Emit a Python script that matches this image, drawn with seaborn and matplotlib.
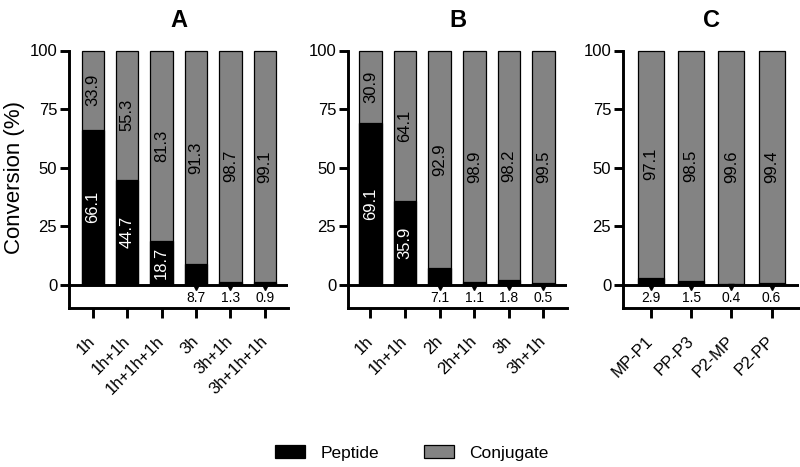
import matplotlib
matplotlib.use("Agg")
import matplotlib.pyplot as plt
from matplotlib.patches import Patch
import seaborn as sns
import pandas as pd

# ---- data ----
cats_A = ["1h", "1h+1h", "1h+1h+1h", "3h", "3h+1h", "3h+1h+1h"]
pep_A = [66.1, 44.7, 18.7, 8.7, 1.3, 0.9]
conj_A = [33.9, 55.3, 81.3, 91.3, 98.7, 99.1]

cats_B = ["1h", "1h+1h", "2h", "2h+1h", "3h", "3h+1h"]
pep_B = [69.1, 35.9, 7.1, 1.1, 1.8, 0.5]
conj_B = [30.9, 64.1, 92.9, 98.9, 98.2, 99.5]

cats_C = ["MP-P1", "PP-P3", "P2-MP", "P2-PP"]
pep_C = [2.9, 1.5, 0.4, 0.6]
conj_C = [97.1, 98.5, 99.6, 99.4]

titles = ["A", "B", "C"]
yticks = [0, 25, 50, 75, 100]
series_names = ["Peptide", "Conjugate"]

# ---- style ----
sns.set_style("ticks")
plt.rcParams["font.family"] = ["Liberation Sans", "DejaVu Sans"]
for k in ["text.color", "axes.labelcolor", "xtick.color", "ytick.color",
          "axes.edgecolor"]:
    plt.rcParams[k] = "black"

PEP_COLOR = "#000000"
CONJ_COLOR = "#838383"
LW = 2.1

fig = plt.figure(figsize=(8, 4.67), dpi=100)

W, H = 800, 467
bottom_px, top_px = 308, 50.5
panels = [
    dict(cats=cats_A, pep=pep_A, conj=conj_A, left=69, right=288, xlim=(-0.69, 5.67)),
    dict(cats=cats_B, pep=pep_B, conj=conj_B, left=348, right=567, xlim=(-0.65, 5.68)),
    dict(cats=cats_C, pep=pep_C, conj=conj_C, left=623, right=799, xlim=(-0.69, 3.68)),
]

for p, title in zip(panels, titles):
    ax = fig.add_axes([p["left"] / W, 1 - bottom_px / H,
                       (p["right"] - p["left"]) / W, (bottom_px - top_px) / H])
    df = pd.DataFrame({"cat": p["cats"], "pep": p["pep"], "conj": p["conj"]})
    df["total"] = df["pep"] + df["conj"]

    sns.barplot(data=df, x="cat", y="total", color=CONJ_COLOR, saturation=1,
                edgecolor="black", linewidth=0.9, width=0.65, errorbar=None, ax=ax)
    sns.barplot(data=df, x="cat", y="pep", color=PEP_COLOR, saturation=1,
                edgecolor="black", linewidth=0.9, width=0.65, errorbar=None, ax=ax)
    for patch in ax.patches:
        patch.set_clip_on(False)

    ax.set_xlim(*p["xlim"])
    ax.set_ylim(-10, 100)
    ax.set_yticks(yticks)
    ax.set_xlabel("")
    ax.set_ylabel("")
    ax.axhline(0, color="black", lw=LW, zorder=5)

    for i, (pv, cv) in enumerate(zip(df["pep"], df["conj"])):
        ax.text(i, pv + cv / 2, f"{cv:.1f}", rotation=90, ha="center", va="center",
                fontsize=12, color="black", zorder=6)
        if pv >= 10:
            ax.text(i, pv / 2, f"{pv:.1f}", rotation=90, ha="center", va="center",
                    fontsize=12, color="white", zorder=6)
        else:
            ax.plot([i], [-1.2], marker="v", color="black", markersize=5,
                    linestyle="none", zorder=6, clip_on=False)
            ax.text(i, -5.7, f"{pv:.1f}", ha="center", va="center",
                    fontsize=10, color="black", zorder=6)

    sns.despine(ax=ax, top=True, right=True)
    ax.spines["left"].set_linewidth(LW)
    ax.spines["bottom"].set_linewidth(LW)
    ax.spines["left"].set_bounds(-10, 100)

    ax.set_xticks(range(len(df)))
    ax.set_xticklabels(df["cat"], rotation=45, ha="right", va="center",
                       rotation_mode="anchor", fontsize=12)
    ax.tick_params(axis="x", direction="out", length=7, width=LW, pad=15)
    ax.tick_params(axis="y", direction="out", length=6.5, width=LW, pad=2,
                   labelsize=12)
    ax.set_title(title, fontsize=17, fontweight="bold", pad=17)

fig.text(15 / W, 1 - 177 / H, "Conversion (%)", rotation=90, ha="center",
         va="center", fontsize=16)

handles = [Patch(facecolor=PEP_COLOR, edgecolor="black", linewidth=0.9),
           Patch(facecolor=CONJ_COLOR, edgecolor="black", linewidth=0.9)]
fig.legend(handles, series_names, loc="center", bbox_to_anchor=(412 / W, 1 - 453 / H),
           ncol=2, frameon=False, fontsize=12.5, handlelength=1.7, handleheight=0.8,
           columnspacing=2.6, handletextpad=0.9)

fig.savefig("out.png", dpi=100)
